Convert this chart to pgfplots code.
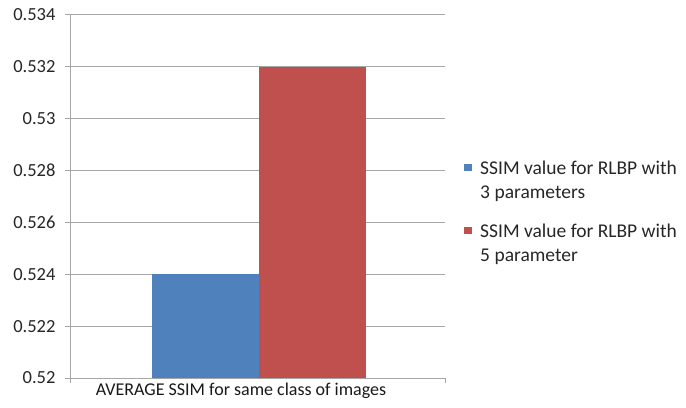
\documentclass[border=0pt]{standalone}
\usepackage{fontspec}
\setmainfont{Carlito}
\usepackage{pgfplots}
\pgfplotsset{compat=1.18}
\definecolor{barblue}{RGB}{79,129,189}
\definecolor{barred}{RGB}{192,80,77}
\definecolor{gridgray}{RGB}{166,166,166}
\begin{document}
\begin{tikzpicture}
\useasboundingbox (0,0) rectangle (686bp,408bp);
\begin{axis}[
  at={(70bp,30bp)}, anchor=south west,
  scale only axis, width=375bp, height=363bp,
  xmin=0, xmax=375, ymin=0.52, ymax=0.534,
  ytick={0.52,0.522,...,0.534},
  xtick={0,375}, xticklabels={},
  axis lines=left, axis line style={-, draw=gridgray, line width=1bp},
  ymajorgrids, grid style={draw=gridgray, line width=1bp},
  tick style={draw=gridgray, line width=1bp},
  tick align=outside, major tick length=5bp,
  /pgf/number format/.cd, fixed, precision=3, 1000 sep={}, assume math mode=true,
  /pgfplots/.cd,
  yticklabel style={font=\fontsize{18.5bp}{22bp}\selectfont, color=black!85, xshift=-6bp},
  xlabel={AVERAGE SSIM for same class of images},
  xlabel style={font=\fontsize{18bp}{22bp}\selectfont, color=black!90, at={(axis description cs:0.456,0)}, anchor=north, yshift=-1bp},
  ybar, bar shift=0pt, bar width=107,
  legend style={draw=none, fill=none, at={(axis description cs:1.0507,0.598)}, anchor=north west,
    font=\fontsize{19.5bp}{24bp}\selectfont, text=black!85, inner sep=0pt,
    nodes={inner sep=0pt, align=left}, row sep=24bp, column sep=8bp},
  legend cell align=left,
  legend image code/.code={\fill[#1] (0bp,9.5bp) rectangle (8bp,17bp);},
]
\addplot[fill=barblue, draw=none] coordinates {(135.5,0.524)};
\addplot[fill=barred, draw=none] coordinates {(242.5,0.532)};
\legend{SSIM value for RLBP with\\3 parameters, SSIM value for RLBP with\\5 parameter}
\end{axis}
\end{tikzpicture}
\end{document}
